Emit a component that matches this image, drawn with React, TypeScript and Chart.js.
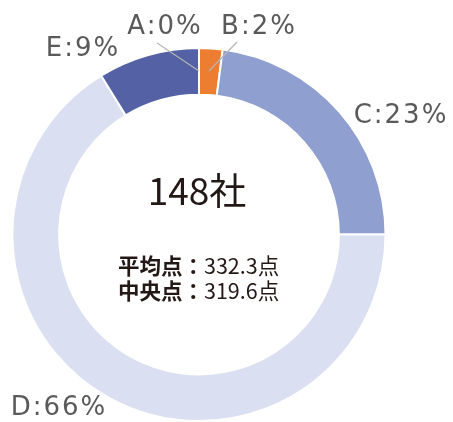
import React, { useEffect, useRef } from "react";
import { Chart, registerables } from "chart.js";

Chart.register(...registerables);

const categories = ["A", "B", "C", "D", "E"];
const counts = [0, 3, 34, 98, 13];
const percentLabels = ["0%", "2%", "23%", "66%", "9%"];
const colors = ["#9aa6d6", "#ED7D31", "#8E9FD0", "#DADFF1", "#5461A5"];
const totalLabel = "148社";
const statLabels = ["平均点：", "中央点："];
const statValues = ["332.3点", "319.6点"];

// label anchor positions (text centers)
const labelPos: Record<string, [number, number]> = {
  A: [165, 27],
  B: [259, 27],
  C: [401, 116],
  D: [59, 408],
  E: [83, 49],
};

const labelPlugin = {
  id: "labels",
  afterDraw(chart: any) {
    const ctx = chart.ctx;
    const meta = chart.getDatasetMeta(0);
    const arc0 = meta.data[0];
    const cx = arc0.x;
    const cy = arc0.y;
    ctx.save();
    ctx.strokeStyle = "#b5b5b5";
    ctx.lineWidth = 1.2;
    const lines: [number, number, number, number][] = [
      [157, 43, 199, 71],
      [237, 42, 209, 71],
    ];
    lines.forEach(([x1, y1, x2, y2]) => {
      ctx.beginPath();
      ctx.moveTo(x1, y1);
      ctx.lineTo(x2, y2);
      ctx.stroke();
    });
    ctx.fillStyle = "#5a5a5a";
    ctx.font = "26px 'DejaVu Sans', Verdana, sans-serif";
    ctx.letterSpacing = "2px";
    ctx.textAlign = "center";
    ctx.textBaseline = "middle";
    categories.forEach((c, i) => {
      const p = labelPos[c];
      ctx.fillText(c + ":" + percentLabels[i], p[0], p[1]);
    });
    ctx.letterSpacing = "0px";
    ctx.fillStyle = "#231815";
    ctx.font = "37px 'Noto Sans CJK JP'";
    ctx.textBaseline = "alphabetic";
    ctx.fillText(totalLabel, cx - 2, cy - 30);
    ctx.textAlign = "left";
    const ys = [cy + 39, cy + 64];
    statLabels.forEach((lab, i) => {
      ctx.font = "bold 21.5px 'Noto Sans CJK JP'";
      const w = ctx.measureText(lab).width;
      const x0 = 118;
      ctx.fillText(lab, x0, ys[i]);
      ctx.font = "21.5px 'Noto Sans CJK JP'";
      ctx.fillText(statValues[i], x0 + w, ys[i]);
    });
    ctx.restore();
  },
};

export default function App() {
  const ref = useRef<HTMLCanvasElement>(null);
  useEffect(() => {
    document.body.style.margin = "0";
    const chart = new Chart(ref.current!, {
      type: "doughnut",
      data: {
        labels: categories,
        datasets: [
          {
            data: counts,
            backgroundColor: colors,
            borderColor: "#ffffff",
            borderWidth: 2,
          },
        ],
      },
      options: {
        animation: false,
        responsive: false,
        cutout: "75%",
        layout: { padding: { left: 11, right: 66, top: 47, bottom: -1 } },
        plugins: {
          legend: { display: false },
          tooltip: { enabled: false },
        },
      },
      plugins: [labelPlugin],
    });
    return () => chart.destroy();
  }, []);
  return (
    <div style={{ position: "absolute", left: 0, top: 0, width: 453, height: 422 }}>
      <canvas ref={ref} width={453} height={422} style={{ width: 453, height: 422 }} />
    </div>
  );
}
